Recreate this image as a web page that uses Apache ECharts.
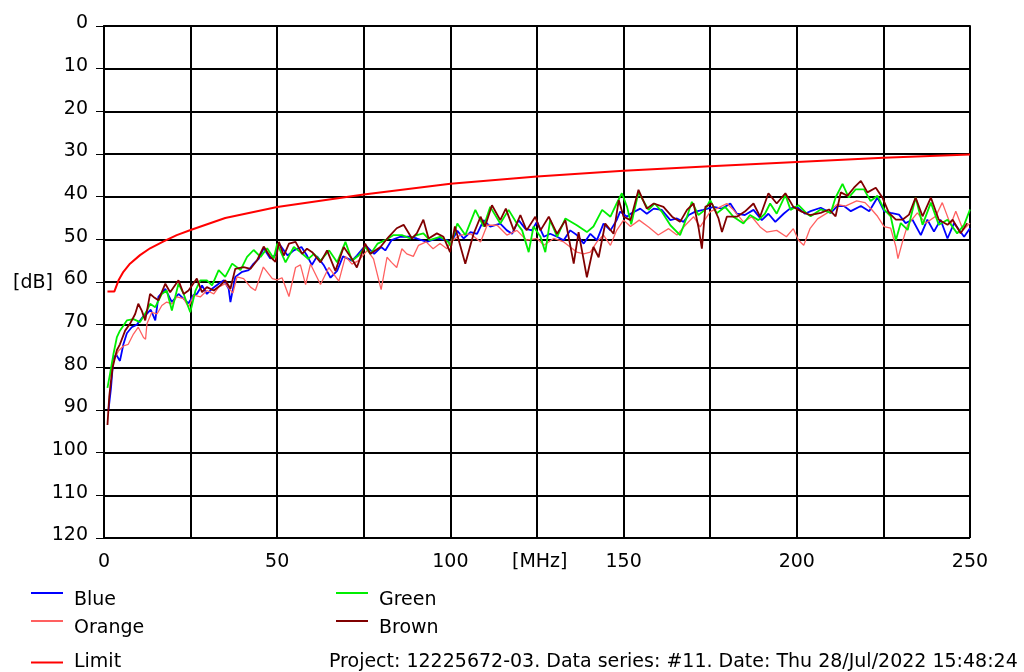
<!DOCTYPE html>
<html>
<head>
<meta charset="utf-8">
<title>Spectrum</title>
<script src="https://cdn.jsdelivr.net/npm/echarts@6/dist/echarts.min.js"></script>
<style>
  html, body { margin: 0; padding: 0; background: #fff; }
  #chart { width: 1024px; height: 672px; }
</style>
</head>
<body>
<div id="chart"></div>
<script>
// [MHz, dB] pairs
const blueData = [
  [1.3,90],[2,85],[2.7,78],[3.5,77],[4.6,78.5],[5.6,74.6],[6.6,72],[8,70.6],[9.5,70],[11.4,68],[12.3,67.5],[13.5,66.5],
  [14.8,69],[15.7,63.5],[17.7,61.6],[19.6,64.7],[21.5,62.8],[24.4,65],[25.9,63],[26.8,62.8],[28.3,60.8],[29.7,62.8],
  [31.2,61.6],[33.1,60.4],[34.6,59.6],[36,61.6],[36.5,64.7],[37.9,58.8],[39.9,57.6],[41.8,57.2],[43.2,55.7],[44.7,54.5],
  [46.1,52.1],[48,54.5],[49.5,53.7],[50.5,51],[53,53.8],[54.8,52.6],[57,51.8],[58.6,53.8],[60,56],[61.5,54],[63.4,56],
  [65.4,59],[67.3,57.4],[69,54],[71.6,55],[73,53.8],[75.5,51.4],[78,53.4],[80,51.8],[81.2,52.6],[83,50.2],[85.5,49.4],
  [88.4,49.4],[90.3,49.8],[93.2,50.6],[96,49.8],[99,50.2],[100,51],[102,48],[103.8,49.8],[105.8,48.3],[107.7,48.7],
  [109.6,45.5],[111.5,47],[114.4,46.3],[116.3,47.9],[117.8,48.7],[119.7,45.5],[121.6,47.5],[123.5,47.9],[125,45.9],
  [127,49.4],[128.8,48.7],[130.8,49.4],[132.7,50.2],[134.6,47.9],[136.5,49],[138.5,51],[140.4,48.7],[142.3,50.2],
  [144.2,46.3],[146.2,47.9],[148,45.5],[149,43.5],[151,44.7],[152,44],[154.8,42.8],[156.7,44],[158.7,42.8],[161,43.1],
  [163.5,45.5],[165.4,45.1],[167.3,45.9],[168.8,44.3],[170.7,43.5],[173,43.1],[176,42.4],[178.4,42.8],[180.8,41.6],
  [182.7,44],[185,44.3],[187.5,43.1],[189.9,45.5],[191.8,44],[193.8,45.9],[196.2,44],[198,42.8],[200,42.4],[202.4,44],
  [204,43.4],[206.9,42.6],[209.8,43.8],[211.7,42.2],[213.6,42.2],[215.6,43.4],[218.5,42.2],[220.9,43.4],[223.3,40.2],
  [225.2,43.4],[227.1,43.8],[229.5,44.2],[231.4,46.2],[233.4,45.4],[235.8,49],[237.7,45.4],[239.6,48.2],[241.5,45.4],
  [243.5,49.8],[245.4,46.2],[248.3,49.4],[250,47.4]
];
const orangeData = [
  [1.7,82.4],[2.7,78.5],[4.2,76.1],[5.6,75],[7,74.6],[8.5,72.2],[9.9,70.6],[11.4,73],[12,73.4],[12.4,69.8],[13.8,67.1],
  [15.3,67.5],[16.7,65.5],[18.1,64.7],[19.6,65.1],[21,63.5],[23,63.9],[24.4,65.9],[25.9,63.1],[27.8,63.5],[29.7,62],
  [31.7,62.8],[33.1,61.2],[35,60.4],[37.2,62.6],[38.4,58.8],[40.3,59.2],[42.3,61.2],[43.7,62],[46,56.5],[48.6,59.2],
  [50,59.5],[51.4,59],[53.4,63.4],[55.3,56.6],[56.7,56],[58.2,60.6],[59.6,55.8],[62.5,60.6],[64.9,56.6],[67.8,59.8],
  [69.7,54],[71.6,55.8],[73.5,55],[76,52.6],[77.8,54.6],[80,61.8],[81.7,54.2],[83,55.4],[84.5,56.6],[86,52.2],
  [87.4,53.4],[89.3,54],[90.8,51.4],[93,50.6],[95,52.2],[97,51],[99,52.2],[100,50.6],[102.9,49],[105.8,48.7],
  [108.7,50.6],[110.6,46.7],[113.5,46.7],[116.3,49],[119.2,47.9],[122,50.2],[125,49.8],[127,51.4],[129.8,49.8],
  [132.7,50.6],[134.6,51.8],[136.5,53],[138.5,53.4],[140.4,53],[142.3,50.6],[144.2,49],[146.2,51.4],[148,47.9],
  [150,45.5],[152,47],[154.5,45.5],[157.2,47.1],[160,49],[163,47.5],[165.4,49],[167.8,46.7],[170.2,44.7],[172.1,47.1],
  [175,43.5],[176.9,42.8],[179.8,41.6],[181.7,43.1],[184.6,45.9],[187,44.7],[189.4,47.1],[191.3,48.3],[194.2,47.9],
  [197,49.4],[199,47.5],[200.5,50.2],[202,51.4],[203.8,47.5],[206,45.2],[208.8,43.8],[211.7,41.8],[214,42.2],
  [217.3,41],[219.7,41.4],[221.6,43],[223.3,44.6],[225.2,47],[227.1,47.4],[228.6,51.7],[229.2,54.5],[230.5,50.6],
  [232,46.6],[234.8,43.8],[237.2,46.2],[240.1,44.6],[242,41.4],[244.4,46.6],[245.9,43.4],[248,47.8],[250,46.2]
];
const greenData = [
  [1,84.8],[1.7,81.7],[2.7,77],[3.7,73],[4.6,71.4],[6.6,69],[8.5,68.7],[10.4,69.4],[12.4,66.7],[13.3,65.1],[14.8,65.9],
  [16.7,62.8],[18.1,62],[19.6,66.7],[21.5,60.4],[23,62.8],[24.9,67.1],[26.4,62],[27.8,59.6],[29.7,59.6],[31.2,60.8],
  [33.1,57.2],[35,58.8],[37,55.7],[39.4,57.2],[41.3,54.1],[43.2,52.5],[45.2,54.1],[47.1,52.1],[49,54.5],[50,51],
  [52.4,55.4],[54.8,51.8],[56.7,53],[59,54.6],[60.6,53.4],[62.5,55],[65,52.6],[67.3,55.4],[69.7,50.6],[71.6,55],
  [73.5,53.8],[75.4,51.8],[77,53.4],[79,51],[81.2,50.2],[83.6,49],[86,49],[88.4,49.8],[90.3,49],[92.2,48.6],[94,50.2],
  [97,49.4],[99.4,50.6],[100,51.5],[102,46.3],[104.3,49],[107.2,43.1],[109.6,47],[111.5,42.4],[114.4,46.3],[116.8,43.1],
  [119.2,46.3],[120.7,47.9],[122.6,53],[124,47],[126,49.4],[127.4,53],[128.8,45.5],[130.8,49.4],[133.2,45.1],
  [136.5,46.7],[139.4,48.3],[141.3,47],[143.8,43.1],[146.2,44.7],[148,41.6],[149.5,39.2],[151,42.4],[152.2,46.5],
  [154.3,39],[157.2,43.1],[159,41.6],[161,43.5],[163.5,46.7],[166.3,49],[168.3,44.7],[169.7,41.2],[171.6,44.3],
  [173.5,43.1],[175,40.8],[176.9,43.9],[179.3,42.4],[181.7,44.7],[184.6,46.3],[186.5,44.3],[188.9,45.5],[190.8,44],
  [192.3,41.6],[194.2,44],[196.7,39.6],[198.2,43.1],[200.5,42],[202.9,44],[204,44.6],[206.9,43],[209.8,43.8],
  [211.2,40.2],[213.2,37],[215,40.2],[217,38.3],[219.4,38.3],[221.3,41],[223.3,39.8],[225.2,43],[227.1,44.6],
  [228.6,50.2],[230,46.2],[232,47.8],[234.3,40.2],[236.3,46.6],[238.7,41.4],[241,46.6],[243.5,45.4],[246.3,48.6],
  [248.3,46.6],[250,43]
];
const brownData = [
  [1,93.5],[1.5,87],[1.9,84],[2.5,80],[3.7,76],[4.6,74.6],[6.1,71.4],[7.5,69.8],[9,67.5],[9.9,65.1],[10.9,66.7],
  [11.9,69],[13.3,62.8],[14.3,63.5],[15.7,64.3],[17.7,60.4],[19.1,62.4],[21.5,59.6],[23,62.8],[24.4,62],[26.8,59.2],
  [28.3,62.4],[29.7,61.2],[31.7,62],[33.6,60.8],[35,59.6],[36.5,61.6],[37.9,56.9],[40.3,56.5],[42.3,56.9],[44.2,54.9],
  [46.1,51.7],[48,54.1],[49.5,55.3],[50.5,50.6],[51.9,53.8],[53.4,51],[55.3,50.6],[57.2,53.4],[58.6,52.2],[60.1,53],
  [62.5,55.4],[64.4,52.6],[66.8,57.4],[69.2,51.8],[71.6,54.6],[73,56.6],[75.4,51],[76.9,53.4],[79.8,51.8],[82.2,49.4],
  [84.5,47.4],[86.5,46.6],[88.9,49.8],[90.3,48.6],[92.2,45.4],[93.7,49.8],[96.1,48.6],[98,49.4],[99.9,53],[101.3,47],
  [104.3,55.7],[106.7,48.7],[108.7,44.7],[110,47],[112,42],[114.4,45.5],[116,42.8],[118.3,47.9],[120.2,44.3],[122,47.9],
  [124.5,44.7],[126,47.9],[128.4,44.7],[130.8,48.7],[133.2,45.5],[135.6,55.7],[137,48.3],[139.4,58.9],[141.3,51.8],
  [142.8,54.2],[144.7,46.3],[147.1,48.7],[148.6,40.8],[150,44.7],[152,45.5],[154.3,38.4],[156.7,42.8],[158.7,41.6],
  [161.5,42.4],[164,44.7],[166.3,45.9],[168.3,43.1],[170.2,41.6],[171.6,47.1],[172.6,52.2],[173.6,42.4],[175.5,41.6],
  [177.4,45.1],[178.4,48.3],[179.8,44.7],[182.7,44.7],[185,43.5],[187.5,41.6],[189.4,44.7],[191.8,39.2],[194.2,41.6],
  [196.7,39.2],[199,42.4],[201.4,43.5],[203.8,44.3],[206.9,43.8],[209.3,43],[211.2,44.6],[212.7,39],[214.6,39.8],
  [216.5,37.9],[218.5,36.3],[220.4,39],[222.8,37.9],[224.7,40.2],[226.6,43.8],[228.6,45.4],[230.5,45.4],[232.4,44.2],
  [234.3,40.2],[236.3,44.6],[238.7,40.2],[241,45.4],[243.5,46.6],[245,45.4],[247.3,48.6],[249.2,46.2]
];
const limitData = [
  [1,62.2],[3,62.2],[4.2,59.6],[5.6,57.6],[7.5,55.7],[10.4,53.7],[13.3,52.1],[17.2,50.5],[21,49],[25,47.8],[35,45],
  [50,42.4],[75,39.5],[100,37],[125,35.3],[150,33.9],[175,32.9],[200,31.9],[225,30.9],[250,30.1]
];
const footerText = 'Project: 12225672-03. Data series: #11. Date: Thu 28/Jul/2022 15:48:24';

const FONT = 'DejaVu Sans';
const FS = 19;

let chart = echarts.init(document.getElementById('chart'));

// one legend box per entry; drop = how far the text sits below the line
function legendItem(name, left, top, drop) {
  return {
    data: [name],
    left: left,
    top: top,
    padding: 0,
    icon: 'rect',
    itemWidth: 32,
    itemHeight: 2,
    selectedMode: false,
    formatter: '{t|{name}}',
    textStyle: {
      rich: {
        t: {fontFamily: FONT, fontSize: FS, color: '#000', padding: [drop, 0, 0, 6]}
      }
    }
  };
}

function lineSeries(name, color, width, data) {
  return {
    name: name,
    type: 'line',
    data: data,
    color: color,
    symbol: 'none',
    smooth: false,
    lineStyle: {color: color, width: width},
    animation: false
  };
}

chart.setOption({
  animation: false,
  grid: {left: 104, right: 54, top: 26, bottom: 134},
  xAxis: {
    type: 'value',
    min: 0,
    max: 250,
    interval: 25,
    axisLine: {lineStyle: {color: '#000', width: 2}},
    axisTick: {length: 7, lineStyle: {color: '#000', width: 1}},
    axisLabel: {
      margin: 15,
      fontFamily: FONT,
      fontSize: FS,
      color: '#000',
      formatter: function (v) { return v % 50 === 0 ? String(v) : ''; }
    },
    splitLine: {show: true, lineStyle: {color: '#000', width: 2}}
  },
  yAxis: {
    type: 'value',
    inverse: true,
    min: 0,
    max: 120,
    interval: 10,
    axisLine: {lineStyle: {color: '#000', width: 2}},
    axisTick: {length: 8, lineStyle: {color: '#000', width: 1}},
    axisLabel: {
      margin: 16,
      formatter: '{v|{value}}',
      rich: {
        v: {fontFamily: FONT, fontSize: FS, color: '#000', padding: [0, 0, 5, 0]}
      }
    },
    splitLine: {show: true, lineStyle: {color: '#000', width: 2}}
  },
  legend: [
    legendItem('Blue', 31, 591, 15),
    legendItem('Orange', 31, 619, 15),
    legendItem('Limit', 31, 653, 0),
    legendItem('Green', 336, 591, 15),
    legendItem('Brown', 336, 619, 15)
  ],
  graphic: [{
    type: 'text',
    left: 13,
    top: 274,
    style: {text: '[dB]', fontFamily: FONT, fontSize: FS, fill: '#000'}
  }, {
    type: 'text',
    left: 512,
    top: 553,
    style: {text: '[MHz]', fontFamily: FONT, fontSize: FS, fill: '#000'}
  }, {
    type: 'text',
    left: 329,
    top: 653,
    style: {text: footerText, fontFamily: FONT, fontSize: FS, fill: '#000'}
  }],
  series: [
    lineSeries('Blue', '#0000ff', 1.8, blueData),
    lineSeries('Orange', '#ff6060', 1.3, orangeData),
    lineSeries('Green', '#00ee00', 1.8, greenData),
    lineSeries('Brown', '#800000', 1.8, brownData),
    lineSeries('Limit', '#ff0000', 2, limitData)
  ]
});
</script>
</body>
</html>
